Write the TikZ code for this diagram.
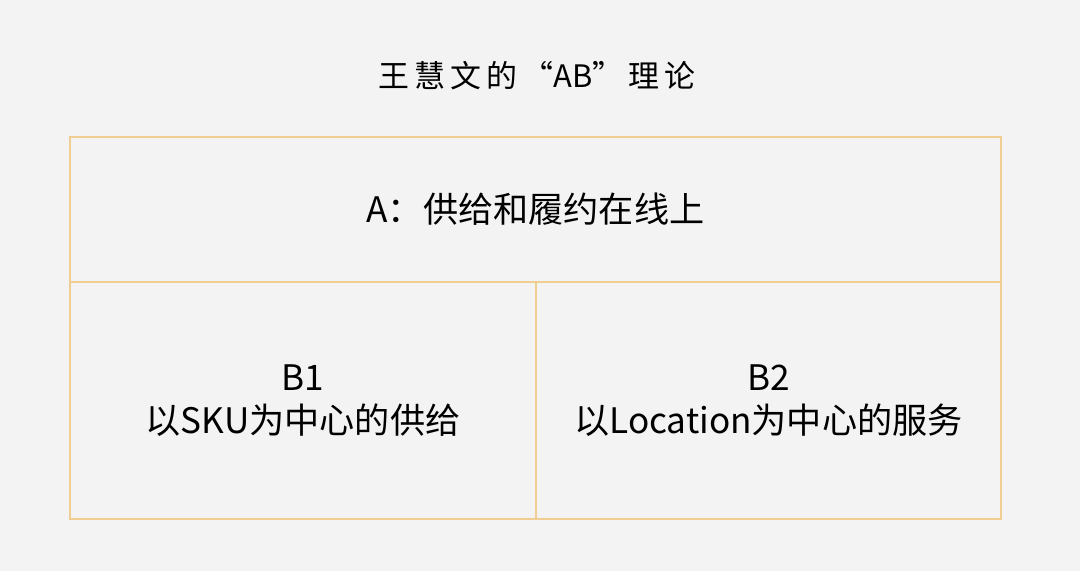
\documentclass[tikz,border=0pt]{standalone}
\usepackage{fontspec}
\newfontfamily\cjk{Noto Sans CJK SC}
\definecolor{bg}{RGB}{243,243,243}
\definecolor{frame}{RGB}{240,206,146}
\begin{document}
\begin{tikzpicture}[x=0.025cm,y=-0.025cm]

      \fill[bg] (0,0) rectangle (1080,571);
      \useasboundingbox (0,0) rectangle (1080,571);

      \node (t) at (537,76) {\cjk\fontsize{22}{26}\selectfont 王\,慧\,文\,的\,“AB”\,理\,论};

      \begin{scope}[every node/.style={draw=frame, line width=1.4pt, inner sep=0pt,
          align=center, font=\cjk\fontsize{25}{30.6}\selectfont}]
        \node[minimum width=23.275cm, minimum height=3.625cm] (a)  at (535.5,209.5) {A：供给和履约在线上};
        \node[minimum width=11.65cm, minimum height=5.925cm] (b1) at (303,400.5) {B1\\以SKU为中心的供给};
        \node[minimum width=11.625cm, minimum height=5.925cm] (b2) at (768.5,400.5) {B2\\以Location为中心的服务};
      \end{scope}

    \end{tikzpicture}
\end{document}
